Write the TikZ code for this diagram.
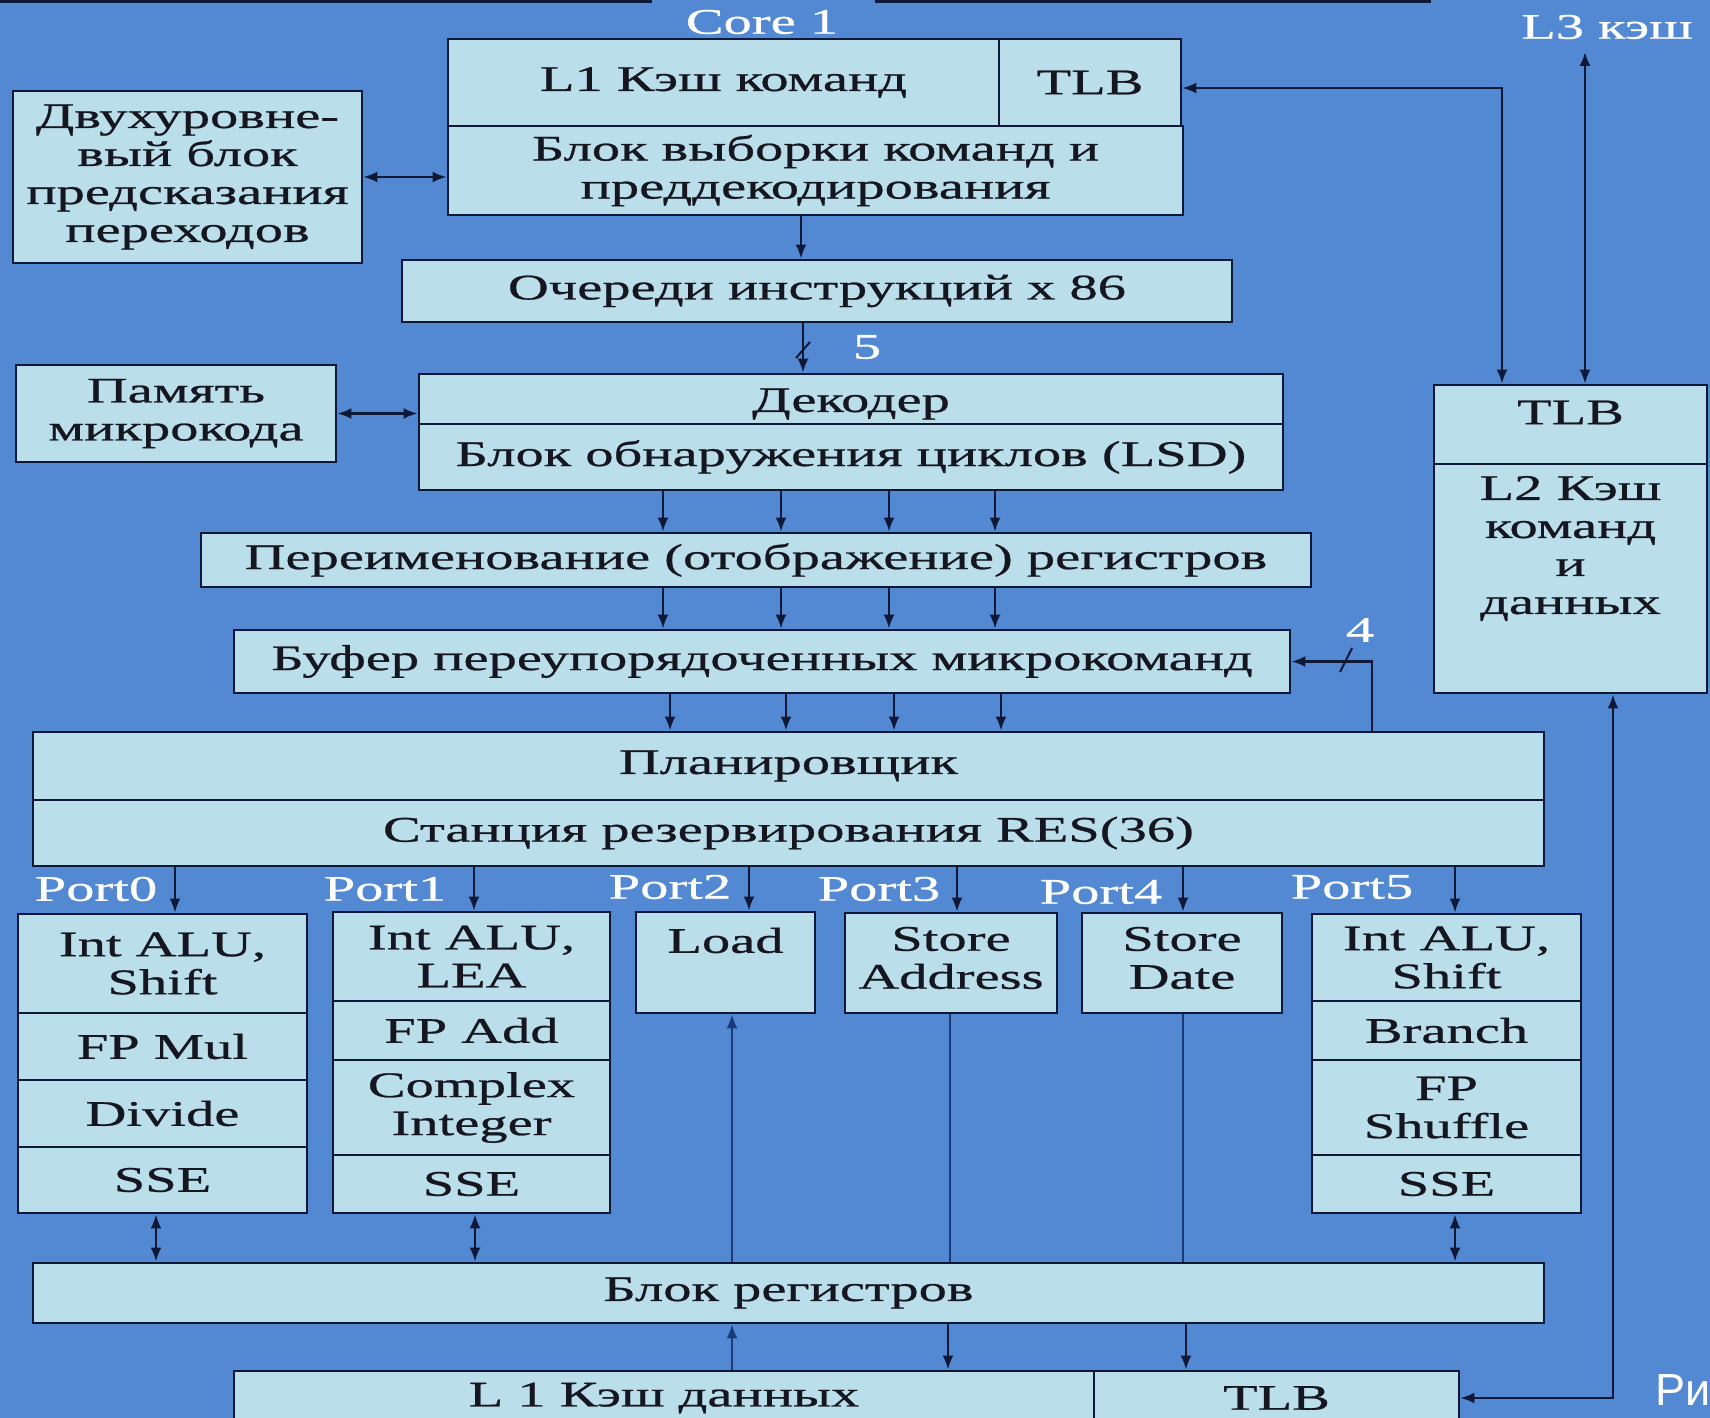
\documentclass[tikz,border=0pt]{standalone}
\usepackage{fontspec}
\setmainfont{Liberation Serif}[FakeStretch=1.57,FakeBold=0.7]
\newfontfamily\risfont{Liberation Sans}
\usetikzlibrary{arrows.meta}
\definecolor{bgblue}{RGB}{83,137,210}
\definecolor{boxfill}{RGB}{186,222,234}
\definecolor{navy}{RGB}{16,24,56}
\definecolor{thinline}{RGB}{28,58,120}
\definecolor{txt}{RGB}{22,22,32}
\newcommand\mkbox[7][]{\node[ubox,minimum width={(#5-#3)*0.5pt},minimum height={(#6-#4)*0.5pt},#1] (#2) at ({(#3+#5)/2},{(#4+#6)/2}) {#7};}
\begin{document}
\begin{tikzpicture}[x=0.5pt,y=-0.5pt,
  ubox/.style={draw=navy,line width=1.4pt,fill=boxfill,text=txt,align=center,inner sep=1pt,font=\fontsize{18}{19}\selectfont},
  blab/.style={text=txt,align=center,font=\fontsize{18}{19}\selectfont},
  wlabel/.style={text=white,inner sep=0pt,font=\fontsize{18}{19}\selectfont},
  arr/.style={draw=navy,line width=1.2pt,-{Latex[length=7pt,width=5.5pt]}},
  darr/.style={draw=navy,line width=1.2pt,{Latex[length=7pt,width=5.5pt]}-{Latex[length=7pt,width=5.5pt]}},
  thin/.style={draw=thinline,line width=1pt},
  tarr/.style={draw=thinline,line width=1pt,-{Latex[length=7pt,width=5.5pt]}}]
\fill[bgblue] (0,0) rectangle (1710,1418);
\useasboundingbox (0,0) rectangle (1710,1418);
% top container edge
\fill[navy] (0,0) rectangle (652,3);
\fill[navy] (875,0) rectangle (1431,3);
\node[wlabel] (core) at (762,22) {Core 1};
\node[wlabel] (l3) at (1607,27) {L3 кэш};

% front end
\mkbox{predict}{13}{91}{362}{263}{Двухуровне-\\вый блок\\предсказания\\переходов}
\mkbox{l1i}{448}{39}{999}{126}{L1 Кэш команд}
\mkbox{itlb}{999}{39}{1181}{126}{TLB}
\mkbox{fetch}{448}{126}{1183}{215}{Блок выборки команд и\\преддекодирования}
\mkbox{queue}{402}{260}{1232}{322}{Очереди инструкций х 86}
\mkbox{ucode}{16}{365}{336}{462}{Память\\микрокода}
\mkbox[label={[blab,yshift=-2.5pt]center:Декодер}]{dec}{419}{374}{1283}{424}{}
\mkbox{lsd}{419}{424}{1283}{490}{Блок обнаружения циклов (LSD)}
\mkbox{ren}{201}{533}{1311}{587}{Переименование (отображение) регистров}
\mkbox{rob}{234}{630}{1290}{693}{Буфер переупорядоченных микрокоманд}
\mkbox{sched}{33}{732}{1544}{800}{Планировщик}
\mkbox{rs}{33}{800}{1544}{866}{Станция резервирования RES(36)}
% L2
\mkbox[label={[blab,yshift=6pt]center:TLB}]{l2tlb}{1434}{385}{1707}{464}{}
\mkbox[label={[blab,yshift=15pt]center:L2 Кэш\\команд\\и\\данных}]{l2}{1434}{464}{1707}{693}{}

% execution units
\mkbox{u0a}{18}{914}{307}{1013}{Int ALU,\\Shift}
\mkbox{u0b}{18}{1013}{307}{1080}{FP Mul}
\mkbox{u0c}{18}{1080}{307}{1147}{Divide}
\mkbox{u0d}{18}{1147}{307}{1213}{SSE}
\mkbox{u1a}{333}{912}{610}{1001}{Int ALU,\\LEA}
\mkbox{u1b}{333}{1001}{610}{1060}{FP Add}
\mkbox{u1c}{333}{1060}{610}{1155}{Complex\\Integer}
\mkbox{u1d}{333}{1155}{610}{1213}{SSE}
\mkbox[label={[blab,yshift=11pt]center:Load}]{load}{636}{912}{815}{1013}{}
\mkbox[label={[blab,yshift=2.5pt]center:Store\\Address}]{sta}{845}{913}{1057}{1013}{}
\mkbox[label={[blab,yshift=2.5pt]center:Store\\Date}]{std}{1082}{913}{1282}{1013}{}
\mkbox{u5a}{1312}{914}{1581}{1001}{Int ALU,\\Shift}
\mkbox{u5b}{1312}{1001}{1581}{1060}{Branch}
\mkbox{u5c}{1312}{1060}{1581}{1155}{FP\\Shuffle}
\mkbox{u5d}{1312}{1155}{1581}{1213}{SSE}
\mkbox{reg}{33}{1263}{1544}{1323}{Блок регистров}
\mkbox{l1d}{234}{1371}{1094}{1425}{L 1 Кэш данных}
\mkbox{dtlb}{1094}{1371}{1459}{1425}{TLB}

% port labels
\node[wlabel] (p0) at (96,889) {Port0};
\node[wlabel] (p1) at (385,889) {Port1};
\node[wlabel] (p2) at (670,887) {Port2};
\node[wlabel] (p3) at (879,889) {Port3};
\node[wlabel] (p4) at (1101,892) {Port4};
\node[wlabel] (p5) at (1352,887) {Port5};
\node[wlabel] (n5) at (867,347) {5};
\node[wlabel] (n4) at (1360,630) {4};
\node[text=white,inner sep=0pt,anchor=base west,font=\risfont\fontsize{22.5}{26}\selectfont] (ris) at (1655,1405) {Ри};

% column coordinates
\coordinate (xa) at (801,0);
\coordinate (xb) at (803,0);
\coordinate (c1) at (663,0);
\coordinate (c2) at (781,0);
\coordinate (c3) at (889,0);
\coordinate (c4) at (995,0);
\coordinate (d1) at (670,0);
\coordinate (d2) at (786,0);
\coordinate (d3) at (894,0);
\coordinate (d4) at (1001,0);
\coordinate (q0) at (175,0);
\coordinate (q1) at (474,0);
\coordinate (q2) at (749,0);
\coordinate (q3) at (957,0);
\coordinate (q4) at (1183,0);
\coordinate (q5) at (1455,0);
\coordinate (fb) at (1372,0);
\coordinate (ya) at (0,88);
\coordinate (xl2a) at (1502,0);
\coordinate (l3top) at (1585,52);
\coordinate (xl2b) at (1613,0);
\coordinate (v0) at (156,0);
\coordinate (v1) at (475,0);
\coordinate (v5) at (1455,0);
\coordinate (xld) at (732,0);
\coordinate (xsa) at (950,0);
\coordinate (xsa2) at (948,0);
\coordinate (xsd) at (1183,0);
\coordinate (xsd2) at (1186,0);

% front-end connectors
\draw[darr] (predict.east) -- (predict.east -| fetch.west);
\draw[arr] (fetch.south -| xa) -- (queue.north -| xa);
\draw[arr] (queue.south -| xb) -- (dec.north -| xb);
\draw[draw=navy,line width=1pt] (796,358) -- (810,342);
\draw[darr] (ucode.east) -- (ucode.east -| dec.west);
\foreach \c in {c1,c2,c3,c4} {
  \draw[arr] (lsd.south -| \c) -- (ren.north -| \c);
  \draw[arr] (ren.south -| \c) -- (rob.north -| \c);
}
\foreach \c in {d1,d2,d3,d4} {
  \draw[arr] (rob.south -| \c) -- (sched.north -| \c);
}
\draw[arr] (sched.north -| fb) |- (rob.east);
\draw[draw=navy,line width=1pt] (1340,672) -- (1352,648);
% L2 / L3 connectors
\draw[darr] (itlb.east |- ya) -| (l2tlb.north -| xl2a);
\draw[darr] (l3top) -- (l2tlb.north -| l3top);
\draw[darr] (l2.south -| xl2b) |- (dtlb.east);
% ports
\draw[arr] (rs.south -| q0) -- (u0a.north -| q0);
\draw[arr] (rs.south -| q1) -- (u1a.north -| q1);
\draw[arr] (rs.south -| q2) -- (load.north -| q2);
\draw[arr] (rs.south -| q3) -- (sta.north -| q3);
\draw[arr] (rs.south -| q4) -- (std.north -| q4);
\draw[arr] (rs.south -| q5) -- (u5a.north -| q5);
% units to register block
\draw[darr] (u0d.south -| v0) -- (reg.north -| v0);
\draw[darr] (u1d.south -| v1) -- (reg.north -| v1);
\draw[darr] (u5d.south -| v5) -- (reg.north -| v5);
\draw[tarr] (reg.north -| xld) -- (load.south -| xld);
\draw[tarr] (l1d.north -| xld) -- (reg.south -| xld);
\draw[thin] (sta.south -| xsa) -- (reg.north -| xsa);
\draw[arr] (reg.south -| xsa2) -- (l1d.north -| xsa2);
\draw[thin] (std.south -| xsd) -- (reg.north -| xsd);
\draw[arr] (reg.south -| xsd2) -- (dtlb.north -| xsd2);
\end{tikzpicture}
\end{document}
